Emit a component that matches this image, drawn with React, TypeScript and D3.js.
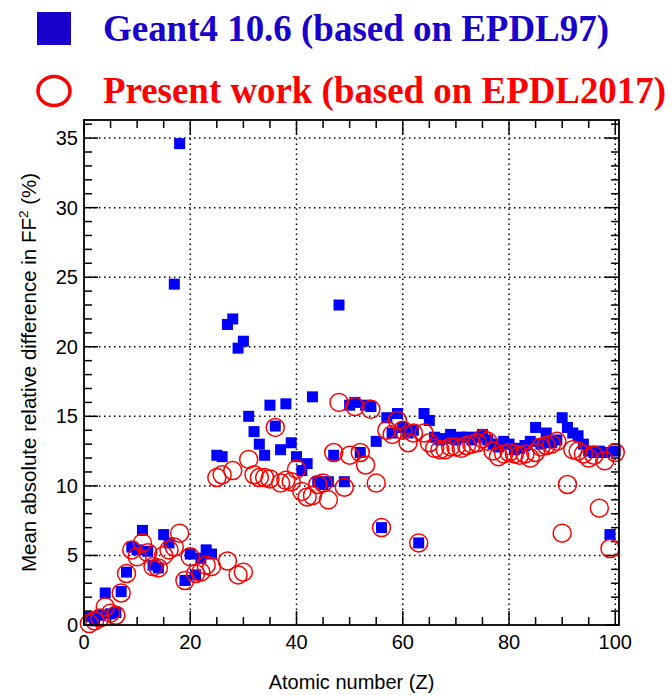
import React from "react";
import * as d3 from "d3";

// Atomic numbers (categories)
const atomicNumbers = [
  1, 2, 3, 4, 5, 6, 7, 8, 9, 10, 11, 12, 13, 14, 15, 16, 17, 18, 19, 20,
  21, 22, 23, 24, 25, 26, 27, 28, 29, 30, 31, 32, 33, 34, 35, 36, 37, 38, 39, 40,
  41, 42, 43, 44, 45, 46, 47, 48, 49, 50, 51, 52, 53, 54, 55, 56, 57, 58, 59, 60,
  61, 62, 63, 64, 65, 66, 67, 68, 69, 70, 71, 72, 73, 74, 75, 76, 77, 78, 79, 80,
  81, 82, 83, 84, 85, 86, 87, 88, 89, 90, 91, 92, 93, 94, 95, 96, 97, 98, 99, 100,
];

// Geant4 10.6 (EPDL97)
const geant4Values = [
  0.6, 0.3, 0.7, 2.3, 0.8, 0.9, 2.4, 3.8, 5.6, 5.4, 6.8, 5.3, 4.3, 4.1, 6.5, 5.9, 24.5, 34.6, 3.2, 5.1,
  3.6, 4.8, 5.4, 5.1, 12.2, 12.1, 21.6, 22.0, 19.9, 20.4, 15.0, 13.9, 13.0, 12.2, 15.8, 14.3, 12.6, 15.9, 13.1, 12.1,
  11.1, 11.6, 16.4, 10.3, 10.1, 10.3, 12.2, 23.0, 10.3, 15.8, 16.0, 12.4, 15.8, 15.7, 13.2, 7.0, 14.9, 13.8, 15.2, 14.2,
  13.8, 14.0, 5.9, 15.2, 14.7, 13.5, 13.3, 13.4, 13.7, 13.3, 13.5, 13.5, 13.3, 13.5, 13.7, 13.3, 13.0, 12.8, 13.2, 13.0,
  12.6, 12.7, 12.9, 13.2, 14.2, 13.0, 13.8, 13.1, 13.3, 14.9, 14.2, 13.8, 13.6, 13.0, 12.5, 12.4, 12.5, 12.4, 6.5, 12.5,
];

// Present work (EPDL2017)
const presentValues = [
  0.1, 0.3, 0.5, 1.3, 0.85, 0.7, 2.3, 3.7, 5.4, 4.9, 5.9, 5.2, 4.2, 4.1, 5.0, 5.4, 5.6, 6.6, 3.2, 4.9,
  3.7, 3.8, 4.3, 4.2, 10.6, 10.8, 4.6, 11.1, 3.6, 3.8, 11.9, 10.8, 10.6, 10.6, 10.5, 14.2, 10.2, 10.4, 10.3, 11.2,
  9.6, 9.2, 9.3, 10.1, 10.2, 9.0, 12.4, 16.0, 9.9, 12.2, 15.7, 12.4, 11.5, 15.5, 10.2, 7.0, 14.0, 13.7, 14.7, 14.0,
  13.1, 13.8, 5.9, 13.8, 13.1, 12.7, 12.6, 12.6, 12.8, 12.8, 12.7, 12.9, 13.0, 13.1, 13.4, 13.2, 12.5, 12.1, 12.3, 12.4,
  12.3, 12.2, 12.3, 12.0, 12.4, 12.8, 12.9, 13.0, 13.2, 6.6, 10.1, 12.6, 12.5, 12.3, 12.0, 12.2, 8.4, 11.8, 5.5, 12.4,
];

const xTicks = [0, 20, 40, 60, 80, 100];
const yTicks = [0, 5, 10, 15, 20, 25, 30, 35];
const legendLabels = ["Geant4 10.6 (based on EPDL97)", "Present work (based on EPDL2017)"];

export default function App() {
  const W = 672;
  const H = 695;
  const L = 84, R = 619, T = 120, B = 625;
  const x = d3.scaleLinear().domain([0, 100.7]).range([L, R]);
  const y = d3.scaleLinear().domain([0, 36.3]).range([B, T]);

  const xMinor = d3.range(0, 101, 5).filter((v) => v % 20 !== 0);
  const yMinor = d3.range(0, 37, 1).filter((v) => v % 5 !== 0);
  const font = "'Liberation Sans', Arial, Helvetica, sans-serif";
  const serif = "'Liberation Serif', 'Times New Roman', serif";
  const majLen = 14, minLen = 8;
  const sq = 11;

  return (
    <svg width={W} height={H} style={{ position: "absolute", left: 0, top: 0, background: "#fff" }}>
      <rect x={0} y={0} width={W} height={H} fill="#fff" />
      {/* Legend */}
      <rect x={37} y={12} width={34} height={33} fill="#1a00cc" />
      <text x={103} y={41} fontFamily={serif} fontWeight="bold" fontSize={37} fill="#1a00cc" textLength={506} lengthAdjust="spacingAndGlyphs">
        {legendLabels[0]}
      </text>
      <ellipse cx={54} cy={91} rx={16} ry={14.5} fill="none" stroke="#ff0000" strokeWidth={3.5} />
      <text x={103} y={103} fontFamily={serif} fontWeight="bold" fontSize={37} fill="#ff0000" textLength={563} lengthAdjust="spacingAndGlyphs">
        {legendLabels[1]}
      </text>

      {/* Grid */}
      <g stroke="#000" strokeWidth={1.5} strokeDasharray="1.5,3.5">
        {xTicks.filter((v) => v > 0).map((v) => (
          <line key={"gx" + v} x1={x(v)} x2={x(v)} y1={B} y2={T} />
        ))}
        {yTicks.filter((v) => v > 0).map((v) => (
          <line key={"gy" + v} x1={L} x2={R} y1={y(v)} y2={y(v)} />
        ))}
      </g>

      {/* Ticks */}
      <g stroke="#000" strokeWidth={1.5}>
        {xTicks.map((v) => (
          <g key={"tx" + v}>
            <line x1={x(v)} x2={x(v)} y1={B} y2={B - majLen} />
            <line x1={x(v)} x2={x(v)} y1={T} y2={T + majLen} />
          </g>
        ))}
        {xMinor.map((v) => (
          <g key={"mx" + v}>
            <line x1={x(v)} x2={x(v)} y1={B} y2={B - minLen} />
            <line x1={x(v)} x2={x(v)} y1={T} y2={T + minLen} />
          </g>
        ))}
        {yTicks.map((v) => (
          <g key={"ty" + v}>
            <line x1={L} x2={L + majLen} y1={y(v)} y2={y(v)} />
            <line x1={R} x2={R - majLen} y1={y(v)} y2={y(v)} />
          </g>
        ))}
        {yMinor.map((v) => (
          <g key={"my" + v}>
            <line x1={L} x2={L + minLen} y1={y(v)} y2={y(v)} />
            <line x1={R} x2={R - minLen} y1={y(v)} y2={y(v)} />
          </g>
        ))}
      </g>

      {/* Data: Geant4 squares */}
      <g fill="#0000ff">
        {atomicNumbers.map((z, i) => (
          <rect key={"g" + z} x={x(z) - sq / 2} y={y(geant4Values[i]) - sq / 2} width={sq} height={sq} />
        ))}
      </g>
      {/* Data: present work circles */}
      <g fill="none" stroke="#ff0000" strokeWidth={1.5}>
        {atomicNumbers.map((z, i) => (
          <circle key={"p" + z} cx={x(z)} cy={y(presentValues[i])} r={9} />
        ))}
      </g>

      {/* Frame */}
      <rect x={L} y={T} width={R - L} height={B - T} fill="none" stroke="#000" strokeWidth={1.8} />

      {/* Tick labels */}
      <g fontFamily={font} fontSize={20} fill="#000">
        {xTicks.map((v) => (
          <text key={"lx" + v} x={x(v)} y={B + 24} textAnchor="middle">
            {v}
          </text>
        ))}
        {yTicks.map((v) => (
          <text key={"ly" + v} x={L - 6} y={y(v) + 7} textAnchor="end">
            {v}
          </text>
        ))}
      </g>

      {/* Axis titles */}
      <text x={(L + R) / 2} y={689} textAnchor="middle" fontFamily={font} fontSize={20} fill="#000">
        Atomic number (Z)
      </text>
      <text transform={`translate(36, ${(T + B) / 2}) rotate(-90)`} textAnchor="middle" fontFamily={font} fontSize={20.5} fill="#000">
        Mean absolute relative difference in FF
        <tspan fontSize={13.5} dy={-8}>2</tspan>
        <tspan dy={8}> (%)</tspan>
      </text>
    </svg>
  );
}
